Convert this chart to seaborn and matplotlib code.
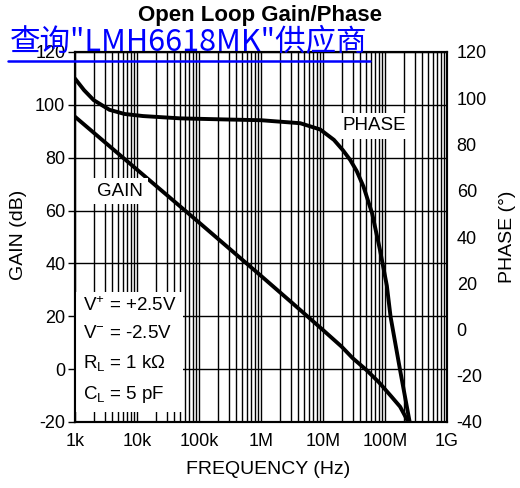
import numpy as np
import pandas as pd
import matplotlib
matplotlib.use("Agg")
import matplotlib.pyplot as plt
import matplotlib.ticker as mticker
from matplotlib.lines import Line2D
import seaborn as sns

# ---- data ----
gain_freq = [1e3, 1e4, 1e5, 1e6, 3.2e6, 1e7, 2e7, 3e7, 5e7, 8e7, 1.25e8, 1.75e8, 2.5e8]
gain_db = [95.5, 75.5, 55.5, 35.3, 25.0, 14.8, 8.5, 4.2, -0.3, -5.0, -10.2, -14.2, -21.0]

phase_freq = [1e3, 1.4e3, 2e3, 3.6e3, 6.3e3, 1.25e4, 5e4, 3e5, 1e6, 4.3e6, 9e6,
              1.5e7, 2.1e7, 2.75e7, 3.5e7, 4.5e7, 6.2e7, 8.3e7, 1.07e8, 1.23e8, 1.75e8, 2.5e8]
phase_deg = [108.5, 103.5, 99.2, 95.0, 93.2, 92.3, 91.3, 90.8, 90.5, 89.2, 86.5,
             82.0, 77.5, 73.3, 68.5, 61.8, 50.2, 34.4, 19.0, 5.5, -17.5, -40.0]

x_ticks = [1e3, 1e4, 1e5, 1e6, 1e7, 1e8, 1e9]
x_tick_labels = ["1k", "10k", "100k", "1M", "10M", "100M", "1G"]
gain_ticks = [-20, 0, 20, 40, 60, 80, 100, 120]
phase_ticks = [-40, -20, 0, 20, 40, 60, 80, 100, 120]
conditions = [r"$\mathregular{V^{+}}$ = +2.5V", r"$\mathregular{V^{-}}$ = -2.5V",
              r"$\mathregular{R_L}$ = 1 k$\mathregular{\Omega}$", r"$\mathregular{C_L}$ = 5 pF"]

gain_df = pd.DataFrame({"freq": gain_freq, "gain": gain_db})
phase_df = pd.DataFrame({"freq": phase_freq, "phase": phase_deg})

sns.set_theme(style="white")
plt.rcParams["font.family"] = ["Liberation Sans", "DejaVu Sans"]
plt.rcParams["mathtext.fontset"] = "custom"
plt.rcParams["mathtext.rm"] = "Liberation Sans"
plt.rcParams["axes.unicode_minus"] = False
plt.rcParams["text.color"] = "black"
plt.rcParams["axes.labelcolor"] = "black"
plt.rcParams["xtick.color"] = "black"
plt.rcParams["ytick.color"] = "black"

W, H = 520, 488
fig = plt.figure(figsize=(W / 100, H / 100), dpi=100)
L, R, T, B = 75, 447, 52, 422
ax = fig.add_axes([L / W, (H - B) / H, (R - L) / W, (B - T) / H])
ax2 = ax.twinx()

sns.lineplot(data=gain_df, x="freq", y="gain", ax=ax, color="black", lw=2.8,
             sort=False, estimator=None, zorder=5)
sns.lineplot(data=phase_df, x="freq", y="phase", ax=ax2, color="black", lw=2.8,
             sort=False, estimator=None, zorder=5)

ax.set_xscale("log")
ax.set_xlim(1e3, 1e9)
ax.set_ylim(-20, 120)
ax2.set_ylim(-40, 120)
ax.set_xticks(x_ticks)
ax.set_xticklabels(x_tick_labels)
ax.xaxis.set_minor_locator(mticker.LogLocator(base=10, subs=np.arange(2, 10)))
ax.xaxis.set_minor_formatter(mticker.NullFormatter())
ax.set_yticks(gain_ticks)
ax2.set_yticks(phase_ticks)

ax.grid(which="both", axis="x", color="black", lw=1.0)
ax.grid(which="major", axis="y", color="black", lw=1.0)
ax.set_axisbelow(True)

ax.tick_params(axis="x", which="both", length=0, labelsize=13, pad=8, colors="black")
ax.tick_params(axis="y", which="major", length=5, width=1, direction="out", left=True,
               labelsize=13, pad=2, colors="black")
ax2.tick_params(axis="y", length=0, labelsize=13, pad=7, colors="black")

for a in (ax, ax2):
    for s in a.spines.values():
        s.set_color("black")
        s.set_linewidth(1.5)

ax.set_xlabel("FREQUENCY (Hz)", fontsize=14, color="black")
ax.set_ylabel("GAIN (dB)", fontsize=14, color="black")
ax2.set_ylabel("PHASE (°)", fontsize=14, color="black")
ax.xaxis.set_label_coords((268 - L) / (R - L), (B - 461) / (B - T))
ax.yaxis.set_label_coords((27 - L) / (R - L), (B - 235) / (B - T))
ax2.yaxis.set_label_coords((499 - L) / (R - L), (B - 237) / (B - T))

# annotations
ax.text((97 - L) / (R - L), (B - 191) / (B - T), "GAIN", transform=ax.transAxes,
        fontsize=13.5, va="center", ha="left", zorder=6, color="black",
        bbox=dict(boxstyle="square,pad=0.25", fc="white", ec="none"))
ax.text((342 - L) / (R - L), (B - 126) / (B - T), "PHASE", transform=ax.transAxes,
        fontsize=13.5, va="center", ha="left", zorder=6, color="black",
        bbox=dict(boxstyle="square,pad=0.25", fc="white", ec="none"))
ax.text((83 - L) / (R - L), (B - 351) / (B - T), "\n".join(conditions), transform=ax.transAxes,
        fontsize=13.5, va="center", ha="left", linespacing=1.75, zorder=6, color="black",
        bbox=dict(boxstyle="square,pad=0.35", fc="white", ec="none"))

fig.text(0.5, (H - 16) / H, "Open Loop Gain/Phase", ha="center", va="center",
         fontsize=16, fontweight="bold", color="black")

fig.text(10 / W, (H - 50) / H, "查询\"LMH6618MK\"供应商", ha="left", va="baseline",
         fontsize=22, color="#0000ff", family=["Noto Sans CJK SC", "DejaVu Sans"], zorder=10)
fig.add_artist(Line2D([8 / W, 370 / W], [(H - 60.5) / H] * 2, color="#0000ff", lw=1.8, zorder=10))

fig.savefig("out.png", dpi=100)
